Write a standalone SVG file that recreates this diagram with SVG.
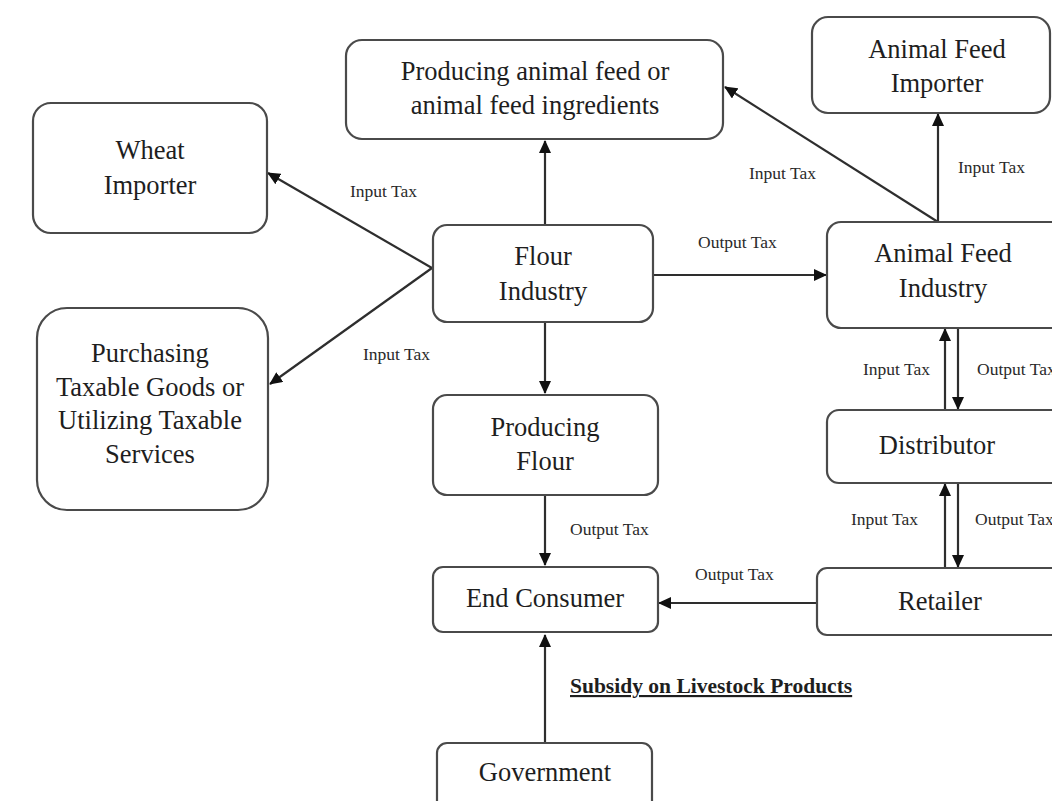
<svg xmlns="http://www.w3.org/2000/svg" width="1052" height="801" viewBox="0 0 1052 801">
<style>
.box{fill:#fff;stroke:#4a4a4a;stroke-width:2.2}
.t{font-family:"Liberation Serif","Times New Roman",serif;font-size:26.5px;fill:#1e1e1e;text-anchor:middle}
.s{font-family:"Liberation Serif","Times New Roman",serif;font-size:17.5px;fill:#2a2a2a}
.sub{font-family:"Liberation Serif","Times New Roman",serif;font-size:21.5px;font-weight:bold;fill:#1e1e1e;text-decoration:underline}
.c{stroke:#2e2e2e;stroke-width:2.2;fill:none;marker-end:url(#ah)}
</style>
<defs>
<marker id="ah" markerUnits="userSpaceOnUse" markerWidth="14" markerHeight="12" refX="12" refY="6" orient="auto">
<path d="M0,0 L13,6 L0,12 Z" fill="#111"/>
</marker>
</defs>
<rect width="1052" height="801" fill="#fff"/>
<g id="connectors">
<line class="c" x1="545" y1="225" x2="545" y2="141"/>
<line class="c" x1="432" y1="268" x2="268" y2="173"/>
<line class="c" x1="432" y1="268" x2="270" y2="384"/>
<line class="c" x1="653" y1="275" x2="826" y2="275"/>
<line class="c" x1="545" y1="322" x2="545" y2="393"/>
<line class="c" x1="545" y1="495" x2="545" y2="565"/>
<line class="c" x1="817" y1="603" x2="659" y2="603"/>
<line class="c" x1="545" y1="743" x2="545" y2="635"/>
<line class="c" x1="938" y1="222" x2="938" y2="114"/>
<line class="c" x1="938" y1="222" x2="725" y2="87"/>
<line class="c" x1="945" y1="410" x2="945" y2="329"/>
<line class="c" x1="958" y1="328" x2="958" y2="409"/>
<line class="c" x1="945" y1="568" x2="945" y2="484"/>
<line class="c" x1="958" y1="483" x2="958" y2="567"/>
<text class="s" x="350" y="197">Input Tax</text>
<text class="s" x="363" y="360">Input Tax</text>
<text class="s" x="698" y="248">Output Tax</text>
<text class="s" x="749" y="179">Input Tax</text>
<text class="s" x="958" y="173">Input Tax</text>
<text class="s" x="863" y="375">Input Tax</text>
<text class="s" x="977" y="375">Output Tax</text>
<text class="s" x="851" y="525">Input Tax</text>
<text class="s" x="975" y="525">Output Tax</text>
<text class="s" x="570" y="535">Output Tax</text>
<text class="s" x="695" y="580">Output Tax</text>
<text class="sub" x="570" y="693">Subsidy on Livestock Products</text>
</g>
<g id="producing-feed">
<rect class="box" x="346" y="40" width="377" height="99" rx="16"/>
<text class="t" x="535" y="80">Producing animal feed or</text>
<text class="t" x="535" y="114">animal feed ingredients</text>
</g>
<g id="feed-importer">
<rect class="box" x="812" y="17" width="238" height="96" rx="16"/>
<text class="t" x="937" y="58">Animal Feed</text>
<text class="t" x="937" y="92">Importer</text>
</g>
<g id="wheat-importer">
<rect class="box" x="33" y="103" width="234" height="130" rx="18"/>
<text class="t" x="150" y="159">Wheat</text>
<text class="t" x="150" y="194">Importer</text>
</g>
<g id="purchasing">
<rect class="box" x="37" y="308" width="231" height="202" rx="30"/>
<text class="t" x="150" y="362">Purchasing</text>
<text class="t" x="150" y="396">Taxable Goods or</text>
<text class="t" x="150" y="429">Utilizing Taxable</text>
<text class="t" x="150" y="463">Services</text>
</g>
<g id="flour-industry">
<rect class="box" x="433" y="225" width="220" height="97" rx="14"/>
<text class="t" x="543" y="265">Flour</text>
<text class="t" x="543" y="300">Industry</text>
</g>
<g id="feed-industry">
<rect class="box" x="827" y="222" width="240" height="106" rx="14"/>
<text class="t" x="943" y="262">Animal Feed</text>
<text class="t" x="943" y="297">Industry</text>
</g>
<g id="producing-flour">
<rect class="box" x="433" y="395" width="225" height="100" rx="14"/>
<text class="t" x="545" y="436">Producing</text>
<text class="t" x="545" y="470">Flour</text>
</g>
<g id="distributor">
<rect class="box" x="827" y="410" width="240" height="73" rx="12"/>
<text class="t" x="937" y="454">Distributor</text>
</g>
<g id="end-consumer">
<rect class="box" x="433" y="567" width="225" height="65" rx="10"/>
<text class="t" x="545" y="607">End Consumer</text>
</g>
<g id="retailer">
<rect class="box" x="817" y="568" width="250" height="67" rx="10"/>
<text class="t" x="940" y="610">Retailer</text>
</g>
<g id="government">
<rect class="box" x="437" y="743" width="215" height="70" rx="10"/>
<text class="t" x="545" y="781">Government</text>
</g>
</svg>
